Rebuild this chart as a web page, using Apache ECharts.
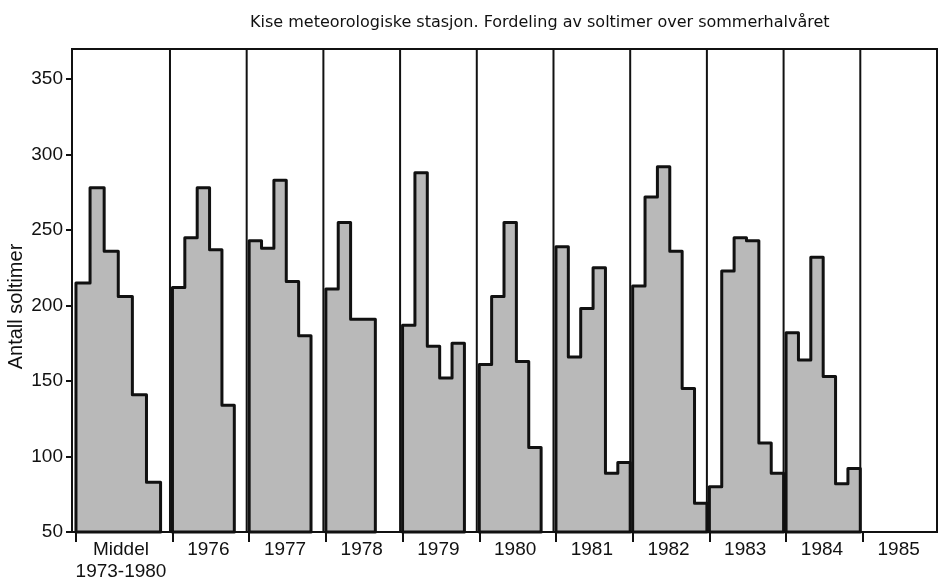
<!DOCTYPE html>
<html>
<head>
<meta charset="utf-8">
<script src="https://cdn.jsdelivr.net/npm/echarts@6/dist/echarts.min.js"></script>
<style>
  html, body { margin: 0; padding: 0; background: #fff; }
  #chart { width: 938px; height: 579px; }
</style>
</head>
<body>
<div id="chart"></div>
<script>
const panelLabels = ['Middel\n1973-1980', '1976', '1977', '1978', '1979', '1980', '1981', '1982', '1983', '1984', '1985'];

// soltimer per måned (null = ingen søyle)
const middel = [215, 278, 236, 206, 141, 83];
const sol1976 = [212, 245, 278, 237, 134, null];
const sol1977 = [243, 238, 283, 216, 180, null];
const sol1978 = [211, 255, 191, 191, null, null];
const sol1979 = [187, 288, 173, 152, 175, null];
const sol1980 = [161, 206, 255, 163, 106, null];
const sol1981 = [239, 166, 198, 225, 89, 96];
const sol1982 = [213, 272, 292, 236, 145, 69];
const sol1983 = [80, 223, 245, 243, 109, 89];
const sol1984 = [182, 164, 232, 153, 82, 92];
const sol1985 = [];

const yTicks = [50, 100, 150, 200, 250, 300, 350];

const panels = [middel, sol1976, sol1977, sol1978, sol1979, sol1980, sol1981, sol1982, sol1983, sol1984, sol1985];

// layout in month units: first panel is a bit wider with wider steps
const Y_MIN = 50;
const Y_MAX = 370;
const spans = panels.map((_, i) => (i === 0 ? 7.92 : 6.2));
const offsets = panels.map((_, i) => (i === 0 ? 0.32 : 0.2));
const slotWidths = panels.map((_, i) => (i === 0 ? 1.14 : 1));

const starts = [];
let acc = 0;
spans.forEach((s) => {
  starts.push(acc);
  acc += s;
});
const X_MAX = acc;
const centers = starts.map((s, i) => s + spans[i] / 2);
const tickPos = starts.map((s, i) => s + offsets[i]);

const ink = '#111';
const font = '"Liberation Sans", Arial, sans-serif';

const renderPanel = (params, api) => {
  const p = api.value(0);
  const vals = panels[p];
  const x0 = starts[p] + offsets[p];
  const w = slotWidths[p];
  const points = [api.coord([x0, Y_MIN])];
  let n = 0;
  vals.forEach((v, i) => {
    if (v == null) return;
    points.push(api.coord([x0 + i * w, v]), api.coord([x0 + (i + 1) * w, v]));
    n = i + 1;
  });
  points.push(api.coord([x0 + n * w, Y_MIN]));
  return {
    type: 'polygon',
    shape: { points },
    style: { fill: '#b9b9b9', stroke: ink, lineWidth: 3, lineJoin: 'round' },
  };
};

const renderDivider = (params, api) => {
  const p = api.value(0);
  const a = api.coord([starts[p], Y_MIN]);
  const b = api.coord([starts[p], Y_MAX]);
  return {
    type: 'line',
    shape: { x1: a[0], y1: a[1], x2: b[0], y2: b[1] },
    style: { stroke: ink, lineWidth: 2 },
  };
};

const chart = echarts.init(document.getElementById('chart'), null, { renderer: 'canvas' });

chart.setOption({
  animation: false,
  backgroundColor: '#fff',
  textStyle: { fontFamily: font, color: ink },
  title: {
    text: 'Kise meteorologiske stasjon. Fordeling av soltimer over sommerhalvåret',
    left: 245,
    top: 10,
    textStyle: { fontFamily: '"DejaVu Sans", sans-serif', fontSize: 16, fontWeight: 'normal', color: ink },
  },
  grid: {
    left: 72,
    right: 1,
    top: 49,
    bottom: 47,
    outerBoundsMode: 'none',
    show: true,
    borderColor: ink,
    borderWidth: 2,
  },
  xAxis: {
    type: 'value',
    min: 0,
    max: X_MAX,
    axisLine: { lineStyle: { color: ink, width: 2 } },
    axisTick: {
      customValues: tickPos,
      length: 10,
      lineStyle: { color: ink, width: 2 },
    },
    axisLabel: {
      customValues: centers,
      margin: 7,
      fontSize: 19,
      lineHeight: 22,
      color: ink,
      fontFamily: font,
      formatter: (value) => {
        const idx = centers.findIndex((c) => Math.abs(c - value) < 1e-6);
        return idx >= 0 ? panelLabels[idx] : '';
      },
    },
    splitLine: { show: false },
  },
  yAxis: {
    type: 'value',
    min: Y_MIN,
    max: Y_MAX,
    interval: 50,
    name: 'Antall soltimer',
    nameLocation: 'middle',
    nameGap: 46,
    nameMoveOverlap: false,
    nameTextStyle: { fontSize: 20, color: ink, fontFamily: font, padding: [0, 32, 0, 0] },
    axisLine: { show: true, lineStyle: { color: ink, width: 2 } },
    axisTick: {
      show: true,
      customValues: yTicks,
      length: 6,
      lineStyle: { color: ink, width: 2 },
    },
    axisLabel: {
      customValues: yTicks,
      margin: 9,
      fontSize: 19,
      color: ink,
      fontFamily: font,
    },
    splitLine: { show: false },
  },
  series: [
    {
      type: 'custom',
      name: 'dividers',
      renderItem: renderDivider,
      data: panels.map((_, i) => [i]).slice(1),
      silent: true,
      z: 3,
    },
    {
      type: 'custom',
      name: 'soltimer',
      renderItem: renderPanel,
      data: panels.map((_, i) => [i]).filter((d) => panels[d[0]].length > 0),
      silent: true,
      z: 4,
    },
  ],
});
</script>
</body>
</html>
